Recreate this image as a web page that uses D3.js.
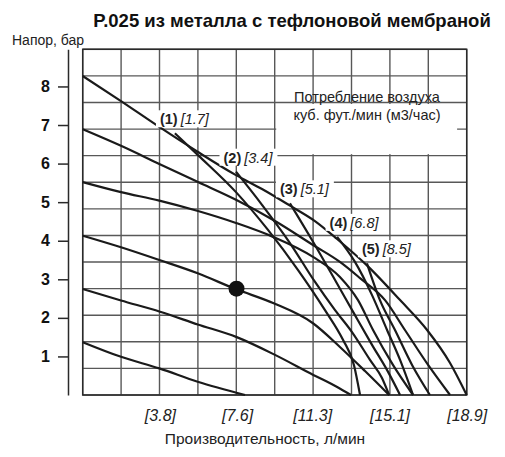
<!DOCTYPE html>
<html><head><meta charset="utf-8">
<script src="https://cdn.jsdelivr.net/npm/d3@7"></script>
<style>
html,body{margin:0;padding:0;background:#fff;}
svg{display:block;font-family:"Liberation Sans",Arial,sans-serif;}
</style></head>
<body><svg id="c" width="505" height="457"></svg>
<script>
// ---- data (flow in l/min, head in bar) ----
const title = "P.025 из металла с тефлоновой мембраной";
const yTitle = "Напор, бар";
const xTitle = "Производительность, л/мин";
const legendLines = ["Потребление воздуха", "куб. фут./мин (м3/час)"];
const xTicks = [3.8, 7.6, 11.3, 15.1, 18.9];
const yTicks = [1, 2, 3, 4, 5, 6, 7, 8];

// performance curves at inlet air pressure 120,100,80,60,40,20 psi
const p120 = [[0,8.27],[1.885,7.62],[3.77,6.95],[5.675,6.30],[7.545,5.70],[8.825,5.34],[10.20,4.91],[11.43,4.51],[12.52,4.045],[13.99,3.36],[15.62,2.46],[16.95,1.685],[18.08,0.83],[18.9,0]];
const p100 = [[0,6.89],[1.885,6.46],[3.77,5.99],[5.675,5.52],[7.545,5.06],[9.465,4.51],[11.335,3.89],[12.66,3.45],[13.65,3.03],[14.88,2.46],[15.86,1.685],[17.0,0.78],[18.08,0]];
const p80  = [[0,5.52],[1.885,5.26],[3.77,5.04],[5.675,4.77],[7.545,4.46],[9.37,4.10],[11.335,3.58],[12.66,3.06],[13.55,2.46],[14.29,1.685],[15.27,0.78],[16.26,0]];
const p60  = [[0,4.13],[1.885,3.83],[3.77,3.50],[5.66,3.155],[7.56,2.74],[9.37,2.385],[11.335,1.86],[12.66,1.245],[13.895,0.62],[15.08,0]];
const p40  = [[0,2.75],[1.885,2.45],[3.805,2.16],[5.66,1.83],[7.58,1.50],[9.465,1.04],[11.35,0.52],[12.50,0.215],[13.205,0]];
const p20  = [[0,1.37],[1.885,0.99],[3.77,0.69],[5.66,0.345],[7.99,0]];

// air consumption curves (scfm), labels in scfm and m3/h
const scfmLabels = ["(1)", "(2)", "(3)", "(4)", "(5)"];
const m3hLabels  = ["[1.7]", "[3.4]", "[5.1]", "[6.8]", "[8.5]"];
const a1 = [[4.54,6.785],[5.675,6.22],[7.545,5.26],[9.12,4.28],[10.60,3.24],[11.925,2.20],[12.81,1.43],[13.35,0.78],[13.65,0]];
const a2 = [[7.545,5.79],[8.825,4.93],[10.20,3.94],[11.435,2.93],[12.42,2.20],[13.255,1.63],[14.14,0.91],[14.73,0.44],[15.08,0]];
const a3 = [[10.20,4.97],[11.285,4.02],[12.42,2.98],[13.40,2.07],[14.24,1.30],[15.03,0.60],[15.62,0]];
const a4 = [[12.52,4.10],[13.40,3.45],[14.24,2.59],[14.98,1.685],[15.62,0.91],[16.26,0]];
const a5 = [[13.99,3.415],[14.63,2.46],[15.37,1.685],[16.21,0.78],[17.09,0]];

const examplePoint = [7.57, 2.758];

// ---- drawing ----
const svg = d3.select("#c");
const L = 82.7, R = 466.7, T = 49.3, B = 395;
const yMax = 130 / 14.5038;   // 130 psi in bar
const x = d3.scaleLinear().domain([0, 18.9]).range([L, R]);
const y = d3.scaleLinear().domain([0, yMax]).range([B, T]);

// grid (0.5 gpm x 10 psi)
const gx = d3.range(0, 11).map(i => i * 18.9 / 10);
const gy = d3.range(0, 14).map(i => i * 10 / 14.5038);
const grid = svg.append("g");
grid.selectAll("line.v").data(gx).join("line")
  .attr("x1", d => x(d)).attr("x2", d => x(d)).attr("y1", T).attr("y2", B)
  .attr("stroke", "#585858").attr("stroke-width", 1.4);
grid.selectAll("line.h").data(gy).join("line")
  .attr("y1", d => y(d)).attr("y2", d => y(d)).attr("x1", L).attr("x2", R)
  .attr("stroke", "#585858").attr("stroke-width", 1.4);
svg.append("rect").attr("x", L).attr("y", T).attr("width", R - L).attr("height", B - T)
  .attr("fill", "none").attr("stroke", "#2a2a2a").attr("stroke-width", 1.5);

// legend box
svg.append("rect").attr("x", x(1.89 * 5) + 1.5).attr("y", y(gy[11]) + 1.5)
  .attr("width", x(1.89 * 9.75) - x(1.89 * 5) - 1.5).attr("height", y(gy[9]) - y(gy[11]) - 3)
  .attr("fill", "#fff");
svg.append("text").attr("x", 367).attr("y", 102).attr("text-anchor", "middle")
  .attr("font-size", 14.5).attr("fill", "#222").text(legendLines[0]);
svg.append("text").attr("x", 367).attr("y", 119.5).attr("text-anchor", "middle")
  .attr("font-size", 14.5).attr("fill", "#222").text(legendLines[1]);

// curves
const line = d3.line().x(d => x(d[0])).y(d => y(d[1])).curve(d3.curveMonotoneX);
const curves = [p120, p100, p80, p60, p40, p20, a1, a2, a3, a4, a5];
svg.append("g").selectAll("path").data(curves).join("path")
  .attr("d", line).attr("fill", "none").attr("stroke", "#1a1a1a").attr("stroke-width", 2.2);

// example point
svg.append("circle").attr("cx", x(examplePoint[0])).attr("cy", y(examplePoint[1]))
  .attr("r", 8).attr("fill", "#111");

// curve labels
const airCurves = [a1, a2, a3, a4, a5];
airCurves.forEach((c, i) => {
  const sx = x(c[0][0]), sy = y(c[0][1]);
  const g = svg.append("g");
  const t = g.append("text").attr("x", sx - 15 + i * 2.5).attr("y", sy - 9)
    .attr("font-size", 14.5).attr("fill", "#222");
  t.append("tspan").attr("font-weight", "bold").text(scfmLabels[i]);
  t.append("tspan").attr("dx", 3).attr("font-style", "italic").text(m3hLabels[i]);
  const bb = t.node().getBBox();
  g.insert("rect", "text").attr("x", bb.x - 4).attr("y", bb.y - 1)
    .attr("width", bb.width + 8).attr("height", bb.height + 1).attr("fill", "#fff");
});

// y axis
const ya = svg.append("g").attr("transform", "translate(68,0)")
  .call(d3.axisLeft(y).tickValues(yTicks).tickSize(10).tickSizeOuter(0).tickPadding(8).tickFormat(d3.format("d")));
ya.select(".domain").attr("stroke", "#2a2a2a").attr("stroke-width", 1.5);
ya.selectAll(".tick line").attr("stroke", "#2a2a2a").attr("stroke-width", 1.5);
ya.selectAll(".tick text").attr("font-size", 16).attr("font-weight", "bold")
  .attr("font-family", "Liberation Sans, Arial, sans-serif").attr("fill", "#111");

// x axis
const xa = svg.append("g").attr("transform", `translate(0,${B})`)
  .call(d3.axisBottom(x).tickValues(xTicks).tickSize(0).tickPadding(14.5).tickFormat(d => `[${d}]`));
xa.select(".domain").remove();
xa.selectAll(".tick text").attr("font-size", 16).attr("font-style", "italic")
  .attr("font-family", "Liberation Sans, Arial, sans-serif").attr("fill", "#222");

// titles
svg.append("text").attr("x", 292).attr("y", 27).attr("text-anchor", "middle")
  .attr("font-size", 18.5).attr("font-weight", "bold").attr("fill", "#111").text(title);
svg.append("text").attr("x", 12).attr("y", 45).attr("font-size", 14).attr("fill", "#222").text(yTitle);
svg.append("text").attr("x", 265).attr("y", 444).attr("text-anchor", "middle")
  .attr("font-size", 15.5).attr("fill", "#222").text(xTitle);
</script></body></html>
